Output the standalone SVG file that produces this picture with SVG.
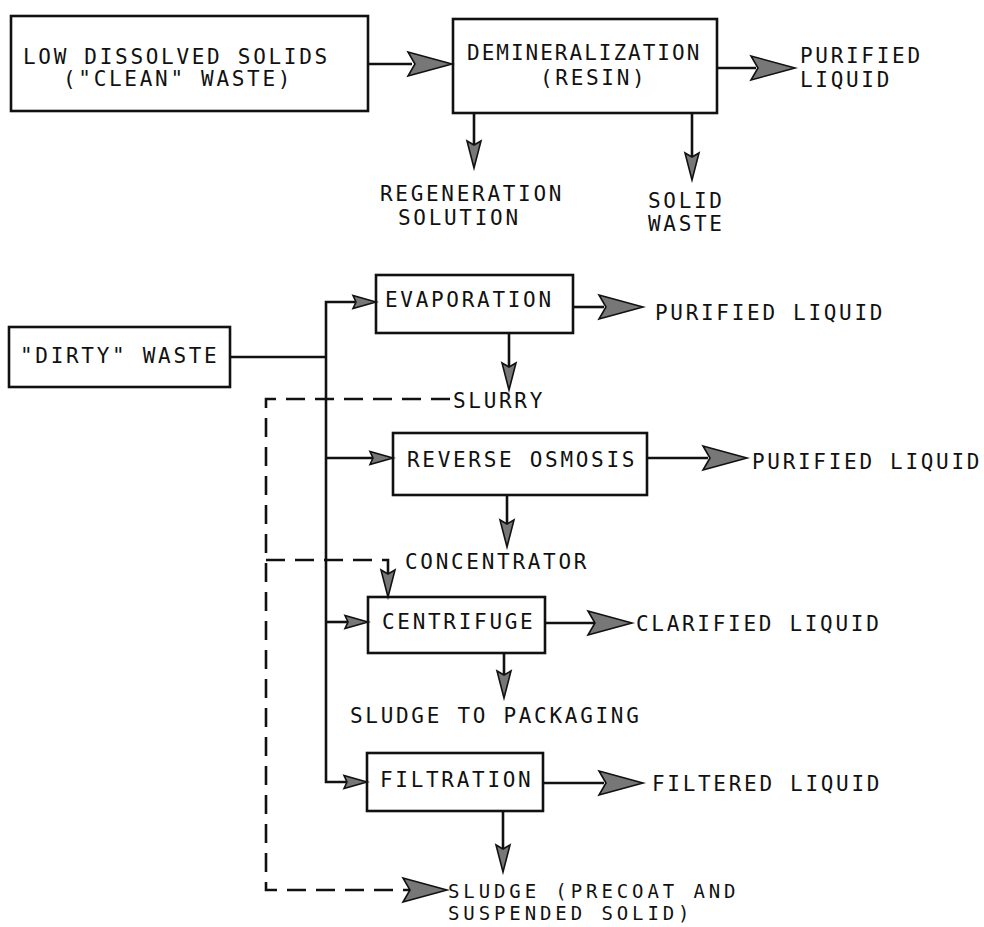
<svg xmlns="http://www.w3.org/2000/svg" xmlns:xlink="http://www.w3.org/1999/xlink" width="984" height="927" viewBox="0 0 984 927">
  <style>
    .box { fill: #fff; stroke: #111; stroke-width: 2.6; }
    .txt { font-family: "DejaVu Sans Mono", "Liberation Mono", monospace; font-size: 21px; letter-spacing: 2.7px; fill: #111; }
    .tight { font-size: 19px; letter-spacing: 3.9px; }
    .ln { fill: none; stroke: #111; stroke-width: 2.6; }
    .dash { fill: none; stroke: #111; stroke-width: 2.6; stroke-dasharray: 19 10; }
    .head { fill: #777; stroke: #111; stroke-width: 1.6; stroke-linejoin: miter; }
  </style>
  <defs>
    <!-- arrowheads point right, tip at origin -->
    <path id="headBig" class="head" d="M0,0 L-44,-12 L-37,0 L-44,12 Z"/>
    <path id="headSmall" class="head" d="M0,0 L-23,-6.5 L-20,0 L-23,6.5 Z"/>
    <path id="headMid" class="head" d="M0,0 L-27,-7 L-23,0 L-27,7 Z"/>
  </defs>

  <rect width="984" height="927" fill="#fff"/>

  <!-- process boxes -->
  <g id="low-dissolved-solids">
    <rect class="box" x="11" y="16" width="357" height="95"/>
    <text class="txt" x="23" y="64">LOW DISSOLVED SOLIDS</text>
    <text class="txt" x="63" y="86">("CLEAN" WASTE)</text>
  </g>
  <g id="demineralization">
    <rect class="box" x="453" y="19" width="264" height="94"/>
    <text class="txt" x="467" y="60" style="letter-spacing:2px">DEMINERALIZATION</text>
    <text class="txt" x="540" y="85">(RESIN)</text>
  </g>
  <g id="dirty-waste">
    <rect class="box" x="9" y="327" width="221" height="60"/>
    <text class="txt" x="20" y="363">"DIRTY" WASTE</text>
  </g>
  <g id="evaporation">
    <rect class="box" x="376" y="275" width="197" height="58"/>
    <text class="txt" x="385" y="307">EVAPORATION</text>
  </g>
  <g id="reverse-osmosis">
    <rect class="box" x="393" y="433" width="254" height="62"/>
    <text class="txt" x="407" y="467">REVERSE OSMOSIS</text>
  </g>
  <g id="centrifuge">
    <rect class="box" x="368" y="597" width="177" height="56"/>
    <text class="txt" x="382" y="629">CENTRIFUGE</text>
  </g>
  <g id="filtration">
    <rect class="box" x="367" y="753" width="176" height="58"/>
    <text class="txt" x="380" y="787">FILTRATION</text>
  </g>

  <!-- stream end labels -->
  <g id="purified-liquid-1">
    <text class="txt" x="800" y="63">PURIFIED</text>
    <text class="txt" x="800" y="87">LIQUID</text>
  </g>
  <g id="regeneration-solution">
    <text class="txt" x="380" y="201">REGENERATION</text>
    <text class="txt" x="398" y="225">SOLUTION</text>
  </g>
  <g id="solid-waste">
    <text class="txt" x="648" y="208">SOLID</text>
    <text class="txt" x="648" y="231">WASTE</text>
  </g>
  <g id="purified-liquid-2">
    <text class="txt" x="655" y="320">PURIFIED LIQUID</text>
  </g>
  <g id="slurry">
    <text class="txt" x="453" y="408">SLURRY</text>
  </g>
  <g id="purified-liquid-3">
    <text class="txt" x="752" y="469">PURIFIED LIQUID</text>
  </g>
  <g id="concentrator">
    <text class="txt" x="405" y="569">CONCENTRATOR</text>
  </g>
  <g id="clarified-liquid">
    <text class="txt" x="636" y="631">CLARIFIED LIQUID</text>
  </g>
  <g id="sludge-to-packaging">
    <text class="txt" x="350" y="723">SLUDGE TO PACKAGING</text>
  </g>
  <g id="filtered-liquid">
    <text class="txt" x="652" y="791">FILTERED LIQUID</text>
  </g>
  <g id="sludge-precoat">
    <text class="txt tight" x="448" y="898">SLUDGE (PRECOAT AND</text>
    <text class="txt tight" x="448" y="920">SUSPENDED SOLID)</text>
  </g>

  <!-- connectors -->
  <g id="connectors">
    <!-- clean waste train -->
    <path class="ln" d="M368,64 H412"/>
    <use xlink:href="#headBig" transform="translate(452,64)"/>
    <path class="ln" d="M717,68 H756"/>
    <use xlink:href="#headBig" transform="translate(795,68)"/>
    <path class="ln" d="M474,113 V145"/>
    <use xlink:href="#headMid" transform="translate(474,168) rotate(90)"/>
    <path class="ln" d="M692,113 V156"/>
    <use xlink:href="#headMid" transform="translate(692,180) rotate(90)"/>

    <!-- dirty waste header and branches -->
    <path class="ln" d="M230,357 H326"/>
    <path class="ln" d="M355,302 H326 V782 H346"/>
    <use xlink:href="#headSmall" transform="translate(376,302)"/>
    <path class="ln" d="M326,458 H372"/>
    <use xlink:href="#headSmall" transform="translate(393,458)"/>
    <path class="ln" d="M326,622 H348"/>
    <use xlink:href="#headSmall" transform="translate(368,622)"/>
    <use xlink:href="#headSmall" transform="translate(367,782)"/>

    <!-- evaporation outputs -->
    <path class="ln" d="M573,307 H604"/>
    <use xlink:href="#headBig" transform="translate(643,307)"/>
    <path class="ln" d="M509,333 V366"/>
    <use xlink:href="#headMid" transform="translate(509,390) rotate(90)"/>

    <!-- reverse osmosis outputs -->
    <path class="ln" d="M647,458 H708"/>
    <use xlink:href="#headBig" transform="translate(747,458)"/>
    <path class="ln" d="M507,495 V524"/>
    <use xlink:href="#headMid" transform="translate(507,547) rotate(90)"/>

    <!-- centrifuge outputs -->
    <path class="ln" d="M545,623 H594"/>
    <use xlink:href="#headBig" transform="translate(632,623)"/>
    <path class="ln" d="M504,653 V675"/>
    <use xlink:href="#headMid" transform="translate(504,698) rotate(90)"/>

    <!-- filtration outputs -->
    <path class="ln" d="M543,783 H604"/>
    <use xlink:href="#headBig" transform="translate(643,783)"/>
    <path class="ln" d="M503,811 V849"/>
    <use xlink:href="#headMid" transform="translate(503,872) rotate(90)"/>

    <!-- slurry / concentrator return lines -->
    <path class="dash" d="M450,399 H266 V890 H410"/>
    <use xlink:href="#headBig" transform="translate(447,890)"/>
    <path class="dash" d="M266,560 H388 V575"/>
    <use xlink:href="#headMid" transform="translate(388,597) rotate(90)"/>
  </g>
</svg>
